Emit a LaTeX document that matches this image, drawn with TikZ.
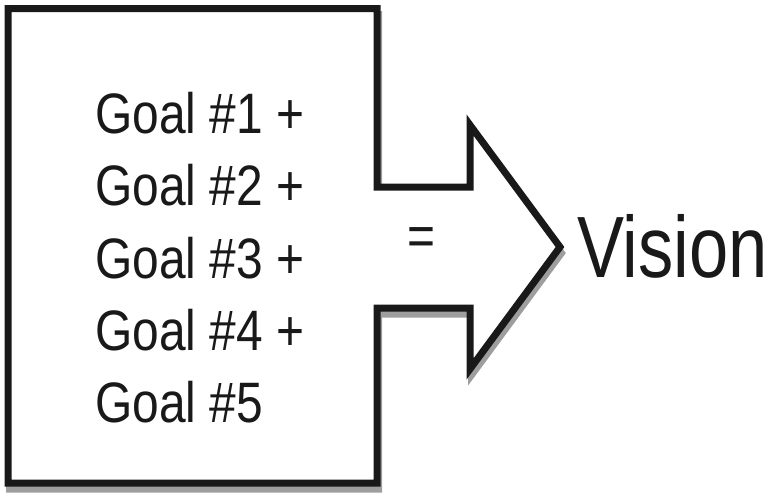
\documentclass[tikz,border=0pt]{standalone}
\usepackage{fontspec}
\setmainfont{Liberation Sans}
\begin{document}
\begin{tikzpicture}[x=1pt,y=-1pt,
  goaltext/.style={anchor=base west, inner sep=0pt, text=black!90, font=\fontsize{57}{57}\selectfont},
  visiontext/.style={anchor=base west, inner sep=0pt, text=black!90, font=\fontsize{87}{87}\selectfont},
  outline/.style={line width=7pt, draw=black!90, fill=white, miter limit=10},
  shadowstyle/.style={line width=7pt, draw=black!38, fill=black!38}]
\useasboundingbox (0,0) rectangle (771,493);
% drop shadow
\begin{scope}[shift={(1.5,6)}]
\draw[shadowstyle] (8,8.5) -- (377,8.5) -- (377,187) -- (470,187) -- (470,125)
  -- (560,247) -- (470,369) -- (470,308) -- (377,308) -- (377,483) -- (8,483) -- cycle;
\end{scope}
% main shape
\draw[outline] (8,8.5) -- (377,8.5) -- (377,187) -- (470,187) -- (470,125)
  -- (560,247) -- (470,369) -- (470,308) -- (377,308) -- (377,483) -- (8,483) -- cycle;
\node[goaltext] (goal1) at (95,133) {\scalebox{0.84}[1]{Goal \#1 +}};
\node[goaltext] (goal2) at (95,205) {\scalebox{0.84}[1]{Goal \#2 +}};
\node[goaltext] (goal3) at (95,278) {\scalebox{0.84}[1]{Goal \#3 +}};
\node[goaltext] (goal4) at (95,350) {\scalebox{0.84}[1]{Goal \#4 +}};
\node[goaltext] (goal5) at (95,422) {\scalebox{0.84}[1]{Goal \#5}};
\node[inner sep=0pt, text=black!90, font=\fontsize{57}{57}\selectfont] (eq) at (421,242) {\scalebox{0.84}[1]{=}};
\node[visiontext] (vision) at (577,277) {\scalebox{0.81}[1]{Vision}};
\end{tikzpicture}
\end{document}
